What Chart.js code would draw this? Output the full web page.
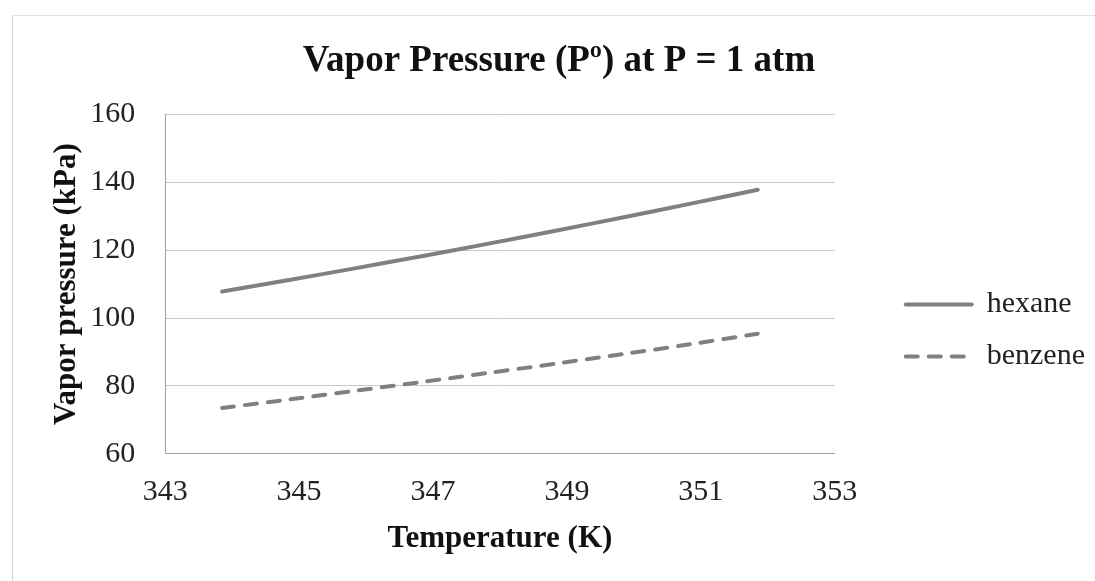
<!DOCTYPE html>
<html>
<head>
<meta charset="utf-8">
<script src="https://cdn.jsdelivr.net/npm/chart.js@4"></script>
<style>
  html, body { margin: 0; padding: 0; background: #fff; }
  #wrap { position: relative; width: 1095px; height: 581px; }
  #frame { position: absolute; left: 12px; top: 15px; right: 0; bottom: 0;
           border-left: 1px solid #d6d6d6; border-top: 1px solid #e2e2e2; }
  canvas { position: absolute; left: 0; top: 0; }
</style>
</head>
<body>
<div id="wrap">
  <div id="frame"></div>
  <canvas id="myChart" width="1095" height="581"></canvas>
</div>
<script>
// temperatures (K)
var temperatures = [343.85, 344.85, 345.85, 346.85, 347.85, 348.85, 349.85, 350.85, 351.85];
// vapor pressures (kPa)
var hexaneValues = [107.8, 111.2, 114.7, 118.3, 122.0, 125.8, 129.7, 133.7, 137.8];
var benzeneValues = [73.5, 76.0, 78.6, 81.2, 83.9, 86.6, 89.4, 92.3, 95.4];
var seriesNames = ['hexane', 'benzene'];
var xTicks = [343, 345, 347, 349, 351, 353];
var yTicks = [60, 80, 100, 120, 140, 160];

function toPoints(values) {
    return values.map(function (v, i) { return { x: temperatures[i], y: v }; });
}

var serif = "'Liberation Serif', 'Times New Roman', serif";
var gray = '#808080';

var ctx = document.getElementById('myChart').getContext('2d');
var chart = new Chart(ctx, {
    type: 'line',
    data: {
        datasets: [{
            label: seriesNames[0],
            data: toPoints(hexaneValues),
            borderColor: gray,
            backgroundColor: gray,
            borderWidth: 4,
            borderCapStyle: 'round',
            pointRadius: 0,
            tension: 0.3
        }, {
            label: seriesNames[1],
            data: toPoints(benzeneValues),
            borderColor: gray,
            backgroundColor: gray,
            borderWidth: 4,
            borderDash: [12, 11],
            borderCapStyle: 'round',
            pointRadius: 0,
            tension: 0.3
        }]
    },
    options: {
        responsive: false,
        animation: false,
        layout: { padding: { left: 23, right: 0, top: 20, bottom: 23 } },
        plugins: {
            title: {
                display: true,
                text: 'Vapor Pressure (P\u00BA) at P = 1 atm',
                color: '#111',
                font: { family: serif, size: 37, weight: 'bold' },
                padding: { top: 19, bottom: 31 }
            },
            legend: {
                position: 'right',
                maxWidth: 400,
                title: { display: true, text: '', padding: { top: 78, bottom: 0 }, font: { size: 4 } },
                labels: {
                    usePointStyle: true,
                    pointStyle: 'line',
                    pointStyleWidth: 66,
                    boxHeight: 30,
                    color: '#222',
                    padding: 22,
                    font: { family: serif, size: 30 },
                    generateLabels: function (chart) {
                        var items = Chart.defaults.plugins.legend.labels.generateLabels(chart);
                        items.forEach(function (item) {
                            var ds = chart.data.datasets[item.datasetIndex];
                            item.lineDash = ds.borderDash || [];
                            item.lineCap = 'round';
                            item.lineWidth = 4;
                            item.strokeStyle = ds.borderColor;
                        });
                        return items;
                    }
                }
            },
            tooltip: { enabled: false }
        },
        scales: {
            x: {
                type: 'linear',
                min: 343,
                max: 353,
                afterBuildTicks: function (axis) {
                    axis.ticks = xTicks.map(function (v) { return { value: v }; });
                },
                grid: { display: false, drawTicks: false },
                border: { display: true, color: '#a0a0a0', width: 1 },
                ticks: { color: '#222', padding: 20, font: { family: serif, size: 30 } },
                title: {
                    display: true,
                    text: 'Temperature (K)',
                    color: '#111',
                    font: { family: serif, size: 31, weight: 'bold' },
                    padding: { top: -9, bottom: 0 }
                }
            },
            y: {
                min: 60,
                max: 160,
                afterBuildTicks: function (axis) {
                    axis.ticks = yTicks.map(function (v) { return { value: v }; });
                },
                grid: { color: '#c8c8c8', lineWidth: 1, drawTicks: false },
                border: { display: true, color: '#a0a0a0', width: 1 },
                ticks: { color: '#222', padding: 30, font: { family: serif, size: 30 } },
                title: {
                    display: true,
                    text: 'Vapor pressure (kPa)',
                    color: '#111',
                    font: { family: serif, size: 31, weight: 'bold' },
                    padding: { top: 25, bottom: -25 }
                }
            },
            // empty spacer between the plot and the legend
            gap: {
                type: 'linear',
                position: 'right',
                display: true,
                grid: { display: false, drawTicks: false },
                border: { display: false },
                ticks: { display: false },
                afterFit: function (scale) { scale.width = 49; }
            }
        }
    }
});
</script>
</body>
</html>
